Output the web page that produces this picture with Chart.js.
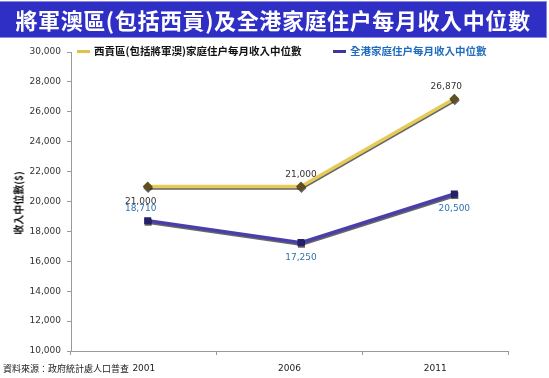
<!DOCTYPE html>
<html>
<head>
<meta charset="utf-8">
<script src="https://cdn.jsdelivr.net/npm/chart.js@4"></script>
<style>
  body { margin: 0; background: #fff; }
  #wrap { position: relative; width: 549px; height: 378px; overflow: hidden; }
  #title { position: absolute; left: 0; top: 2px; width: 546px; height: 35px; background: #2f2fc6;
    color: #fff; font: 700 22px "Noto Sans CJK TC"; line-height: 35px; text-align: center;
    letter-spacing: 0.6px; box-shadow: 0 0 0 1px #8a8ae0; white-space: nowrap; }
  .leg { position: absolute; top: 43px; font: 700 10.5px "Noto Sans CJK TC"; line-height: 16px; white-space: nowrap; }
  .leg i { display: inline-block; width: 13px; height: 3px; vertical-align: middle; margin-right: 4px; position: relative; top: -1px; }
  #ytitle { position: absolute; left: 11px; top: 203px; transform: translate(0, -50%) rotate(-90deg);
    transform-origin: center; font: 700 10px "Noto Sans CJK TC"; color: #111; white-space: nowrap; width: 14px; text-align: center; }
  #source { position: absolute; left: 3px; top: 361px; font: 9px "Noto Sans CJK TC"; color: #222; line-height: 16px; }
  canvas { position: absolute; left: 0; top: 0; }
</style>
</head>
<body>
<div id="wrap">
  <canvas id="myChart" width="549" height="378"></canvas>
  <div id="title">將軍澳區(包括西貢)及全港家庭住户每月收入中位數</div>
  <div class="leg" style="left:77px;color:#111"><i style="background:#e0c24a"></i>西貢區(包括將軍澳)家庭住户每月收入中位數</div>
  <div class="leg" style="left:333px;color:#1f6cc0"><i style="background:#3f35a0"></i>全港家庭住户每月收入中位數</div>
  <div id="ytitle"><span style="display:block;width:80px;margin-left:-33px">收入中位數($)</span></div>
  <div id="source">資料來源：政府統計處人口普查</div>
</div>
<script>
var years = ['2001', '2006', '2011'];
var saiKung = [21000, 21000, 26870];
var hongKong = [18710, 17250, 20500];
var yTicks = [10000, 12000, 14000, 16000, 18000, 20000, 22000, 24000, 26000, 28000, 30000];

// where the value labels sit relative to each point
var saiKungPos = ['below', 'above', 'above'];
var hongKongPos = ['above', 'below', 'below'];

function pts(vals) {
  return vals.map(function (v, i) { return { x: i, y: v }; });
}

var shadow = {
  id: 'shadow',
  beforeDatasetDraw: function (chart) {
    var c = chart.ctx;
    c.save();
    c.shadowColor = 'rgba(0,0,0,0.6)';
    c.shadowOffsetX = 0.5;
    c.shadowOffsetY = 1.5;
    c.shadowBlur = 0.5;
  },
  afterDatasetDraw: function (chart) {
    chart.ctx.restore();
  }
};

var valueLabels = {
  id: 'valueLabels',
  afterDatasetsDraw: function (chart) {
    var c = chart.ctx;
    c.save();
    c.font = '9px "DejaVu Sans"';
    c.textAlign = 'center';
    c.textBaseline = 'middle';
    chart.data.datasets.forEach(function (ds, di) {
      var meta = chart.getDatasetMeta(di);
      meta.data.forEach(function (p, i) {
        var pos = ds.labelPos[i];
        var dx = i === 0 ? -7 : (i === 2 && di === 0 ? -8 : 0);
        var dy = pos === 'above' ? -12 : 15;
        c.fillStyle = ds.labelColor;
        c.fillText(ds.data[i].y.toLocaleString('en-US'), p.x + dx, p.y + dy);
      });
    });
    c.restore();
  }
};

Chart.defaults.font.family = 'DejaVu Sans';
Chart.defaults.font.size = 9;

var ctx = document.getElementById('myChart');

var myChart = new Chart(ctx, {
  type: 'line',
  data: {
    labels: years,
    datasets: [{
      label: '西貢區(包括將軍澳)家庭住户每月收入中位數',
      data: pts(saiKung),
      xAxisID: 'xp',
      borderColor: '#e6cb5a',
      borderWidth: 3.5,
      pointStyle: 'rectRot',
      pointRadius: 2.5,
      pointBackgroundColor: '#5e5020',
      pointBorderColor: '#5e5020',
      labelPos: saiKungPos,
      labelColor: '#333'
    }, {
      label: '全港家庭住户每月收入中位數',
      data: pts(hongKong),
      xAxisID: 'xp',
      borderColor: '#4a3fa8',
      borderWidth: 3.5,
      pointStyle: 'rect',
      pointRadius: 2.5,
      pointBackgroundColor: '#26206a',
      pointBorderColor: '#26206a',
      labelPos: hongKongPos,
      labelColor: '#2f74b0'
    }]
  },
  options: {
    responsive: false,
    animation: false,
    layout: { padding: { left: 0, top: 52, right: 41, bottom: 0 } },
    plugins: { legend: { display: false }, tooltip: { enabled: false } },
    scales: {
      x: {
        type: 'category',
        offset: true,
        grid: { display: true, drawOnChartArea: false, offset: true, tickLength: 4, color: '#999' },
        border: { color: '#999' },
        ticks: { color: '#222', padding: 8, font: { size: 9 } },
        afterFit: function (s) { s.height = 27; }
      },
      xp: {
        type: 'linear',
        display: false,
        min: -0.5,
        max: 2.35
      },
      y: {
        min: 10000,
        max: 30000,
        afterBuildTicks: function (s) { s.ticks = yTicks.map(function (v) { return { value: v }; }); },
        grid: { display: true, drawOnChartArea: false, tickLength: 4, color: '#999' },
        border: { color: '#999' },
        ticks: {
          color: '#333',
          padding: 6,
          callback: function (v) { return v.toLocaleString('en-US'); }
        },
        afterFit: function (s) { s.width = 71; }
      }
    }
  },
  plugins: [shadow, valueLabels]
});
</script>
</body>
</html>
